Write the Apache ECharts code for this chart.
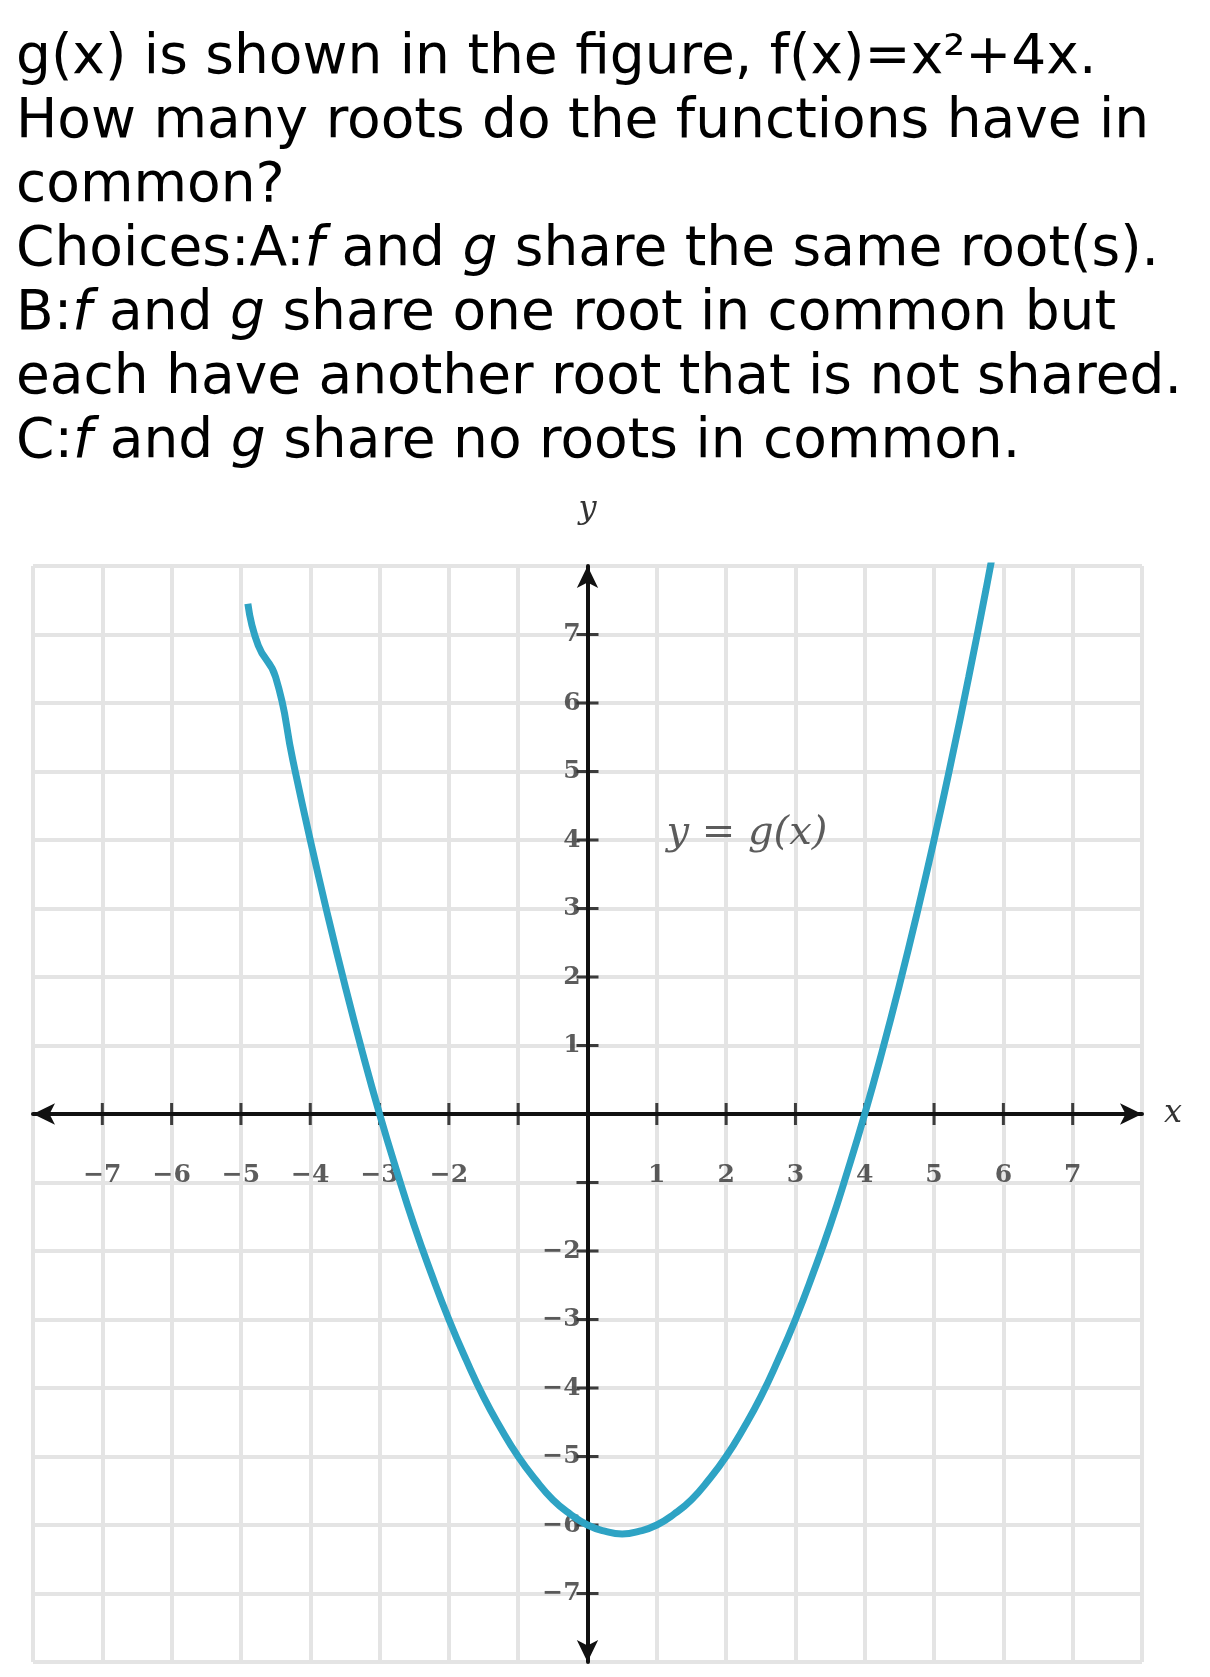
<!DOCTYPE html>
<html lang="en">
<head>
<meta charset="UTF-8">
<title>g(x)</title>
<style>html,body{margin:0;padding:0;background:#fff}#main{width:1210px;height:1677px}</style>
</head>
<body>
<div id="main"></div>
<script src="https://cdn.jsdelivr.net/npm/echarts@6/dist/echarts.min.js"></script>
<script>
var xs = [-4.9, -4.75, -4.5, -4.25, -4, -3.75, -3.5, -3.25, -3, -2.75, -2.5, -2.25, -2, -1.75, -1.5, -1.25, -1, -0.75, -0.5, -0.25, 0, 0.25, 0.5, 0.75, 1, 1.25, 1.5, 1.75, 2, 2.25, 2.5, 2.75, 3, 3.25, 3.5, 3.75, 4, 4.25, 4.5, 4.75, 5, 5.25, 5.5, 5.75, 5.9];
var gs = [7.4, 6.84, 6.38, 5.16, 4, 2.91, 1.88, 0.91, 0, -0.84, -1.63, -2.34, -3, -3.59, -4.13, -4.59, -5, -5.34, -5.63, -5.84, -6, -6.09, -6.13, -6.09, -6, -5.84, -5.63, -5.34, -5, -4.59, -4.13, -3.59, -3, -2.34, -1.63, -0.84, 0, 0.91, 1.88, 2.91, 4, 5.16, 6.38, 7.66, 8.46];
var xTickLabels = [-7, -6, -5, -4, -3, -2, 1, 2, 3, 4, 5, 6, 7];
var yTickLabels = [7, 6, 5, 4, 3, 2, 1, -2, -3, -4, -5, -6, -7];
xs[0] = -4.9; gs[0] = 7.45; xs[1] = -4.75; gs[1] = 6.84; xs[2] = -4.5; gs[2] = 6.38; xs[3] = -4.25; gs[3] = 5.16;
var curve = xs.map(function (x, i) { return [x, gs[i]]; });

var chart = echarts.init(document.getElementById('main'));
var labelFont = { fontFamily: 'DejaVu Serif', fontSize: 25, color: '#333', fontWeight: 'bold' };
function minus(v) { return String(v).replace('-', '\u2212'); }

chart.setOption({
    animation: false,
    title: {
        left: 11, top: 22,
        text: 'g(x) is shown in the figure, f(x)=x\u00b2+4x.\nHow many roots do the functions have in\ncommon?\nChoices:A:{i|f} and {i|g} share the same root(s).\nB:{i|f} and {i|g} share one root in common but\neach have another root that is not shared.\nC:{i|f} and {i|g} share no roots in common.',
        textStyle: {
            fontFamily: 'DejaVu Sans', fontSize: 55, fontWeight: 'normal', color: '#000', lineHeight: 64,
            rich: { i: { fontFamily: 'DejaVu Sans', fontSize: 55, fontStyle: 'italic', color: '#000', lineHeight: 64 } }
        }
    },
    grid: { left: 33, right: 68, top: 566, bottom: 15 },
    xAxis: {
        type: 'value', min: -8, max: 8, interval: 1,
        name: 'x', nameLocation: 'end', nameGap: 22,
        nameTextStyle: { fontFamily: 'DejaVu Serif', fontStyle: 'italic', fontSize: 32, color: '#333', verticalAlign: 'middle' },
        axisLine: { onZero: true, symbol: ['arrow', 'arrow'], symbolSize: [16, 22], lineStyle: { color: '#111', width: 4 } },
        axisTick: { show: false },
        axisLabel: { show: false },
        splitLine: { lineStyle: { color: '#e4e4e4', width: 4 } }
    },
    yAxis: {
        type: 'value', min: -8, max: 8, interval: 1,
        name: 'y', nameLocation: 'end', nameGap: 40,
        nameTextStyle: { fontFamily: 'DejaVu Serif', fontStyle: 'italic', fontSize: 32, color: '#333' },
        axisLine: { onZero: true, symbol: ['arrow', 'arrow'], symbolSize: [16, 22], lineStyle: { color: '#111', width: 4 } },
        axisTick: { show: false },
        axisLabel: { show: false },
        splitLine: { lineStyle: { color: '#e4e4e4', width: 4 } }
    },
    series: [
        {
            type: 'scatter', silent: true, symbol: 'rect', symbolSize: [3, 22],
            itemStyle: { color: '#111' },
            data: [-7, -6, -5, -4, -3, -2, -1, 1, 2, 3, 4, 5, 6, 7].map(function (v) { return [v, 0]; })
        },
        {
            type: 'scatter', silent: true, symbol: 'rect', symbolSize: [22, 3],
            itemStyle: { color: '#111' },
            data: [-7, -6, -5, -4, -3, -2, -1, 1, 2, 3, 4, 5, 6, 7].map(function (v) { return [0, v]; })
        },
        {
            type: 'scatter', silent: true, symbolSize: 0,
            data: xTickLabels.map(function (v) { return [v, -0.9]; }),
            label: Object.assign({ show: true, position: 'inside', formatter: function (p) { return minus(p.value[0]); } }, labelFont)
        },
        {
            type: 'scatter', silent: true, symbolSize: 0,
            data: yTickLabels.map(function (v) { return [-0.1, v]; }),
            label: Object.assign({ show: true, position: 'left', distance: 0, formatter: function (p) { return minus(p.value[1]); } }, labelFont)
        },
        {
            type: 'line', data: curve, smooth: true, showSymbol: false,
            lineStyle: { color: '#2ea3c4', width: 7 }
        },
        {
            type: 'scatter', data: [[2.3, 4.1]], symbolSize: 0,
            label: {
                show: true, position: 'inside', formatter: 'y = g(x)',
                fontFamily: 'DejaVu Serif', fontStyle: 'italic', fontSize: 40, color: '#333'
            }
        }
    ]
});
</script>
</body>
</html>
